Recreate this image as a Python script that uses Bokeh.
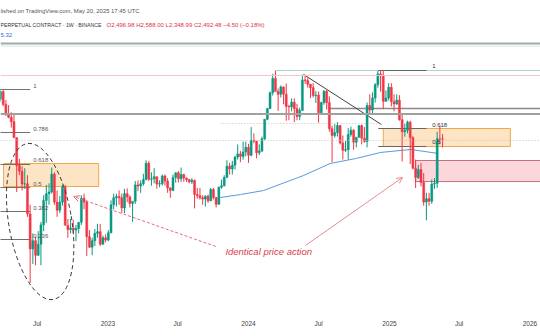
import pandas as pd
from bokeh.plotting import figure
from bokeh.models import (ColumnDataSource, Range1d, Label, Arrow, OpenHead, Span,
                          FixedTicker, CustomJSTickFormatter)
from bokeh.embed import file_html
from bokeh.resources import INLINE

# ---------------- data (weekly candles, ETHUSDT perpetual) ----------------
week_start = "2022-03-28"
opens = [
    # 2022
    3330, 3520, 3207, 3000, 2920, 2830, 2520, 2060, 1975, 1800,
    1805, 1450, 1125, 1195, 1075, 1165, 1340, 1600, 1680, 1700,
    1935, 1580, 1490, 1580, 1760, 1335, 1295, 1310, 1290, 1305,
    1365, 1625, 1580, 1230, 1140, 1195, 1260, 1275, 1165, 1220,
    # 2023
    1200, 1265, 1550, 1630, 1645, 1630, 1515, 1680, 1640, 1565,
    1590, 1790, 1775, 1805, 1860, 2095, 1865, 1870, 1900, 1800,
    1805, 1910, 1840, 1750, 1720, 1890, 1955, 1870, 1930, 1880,
    1860, 1830, 1850, 1670, 1655, 1630, 1615, 1650, 1595, 1730,
    1635, 1555, 1760, 1780, 1890, 2050, 2010, 2065, 2190, 2240,
    2200, 2270,
    # 2024
    2350, 2220, 2470, 2460, 2260, 2290, 2500, 2880, 3110, 3490,
    3870, 3520, 3450, 3640, 3450, 3160, 3150, 3260, 3110, 2940,
    3070, 3830, 3810, 3710, 3620, 3420, 3430, 3020, 3250, 3530,
    3250, 2690, 2560, 2615, 2750, 2425, 2300, 2310, 2580, 2660,
    2440, 2530, 2750, 2510, 2450, 3180, 3080, 3360, 3700, 4000,
    3960, 3280, 3360,
    # 2025
    3630, 3270, 3215, 3310, 2870, 2630, 2660, 2820, 2520, 2020,
    1890, 2000, 1820, 1580, 1620, 1590, 1800, 1810, 2500, 2496.98,
]
highs = [
    3580, 3555, 3310, 3190, 3030, 3000, 2530, 2160, 2050, 2020,
    1920, 1550, 1260, 1230, 1280, 1370, 1660, 1790, 1810, 2030,
    1960, 1720, 1650, 1790, 1790, 1400, 1400, 1390, 1340, 1340,
    1660, 1680, 1600, 1290, 1220, 1300, 1350, 1350, 1240, 1250,
    1290, 1600, 1680, 1680, 1720, 1680, 1740, 1745, 1660, 1580,
    1840, 1850, 1850, 1940, 2140, 2130, 1960, 2020, 1900, 1850,
    1930, 1930, 1880, 1760, 1930, 1960, 1980, 2030, 1940, 1890,
    1870, 1880, 1860, 1750, 1750, 1660, 1660, 1670, 1750, 1750,
    1640, 1770, 1860, 1920, 2140, 2100, 2130, 2210, 2400, 2290,
    2450, 2450,
    2410, 2720, 2600, 2460, 2400, 2540, 2880, 3130, 3520, 4000,
    4095, 3600, 3680, 3650, 3730, 3200, 3350, 3350, 3220, 3130,
    3980, 3980, 3890, 3720, 3740, 3530, 3520, 3270, 3560, 3560,
    3400, 2750, 2780, 2820, 2760, 2560, 2460, 2700, 2730, 2680,
    2520, 2760, 2770, 2720, 3250, 3450, 3500, 3740, 4090, 4110,
    4110, 3550, 3740,
    3740, 3450, 3450, 3430, 3000, 2790, 2850, 2850, 2550, 2150,
    2070, 2100, 1950, 1690, 1690, 1860, 1880, 2630, 2740, 2588.00,
]
lows = [
    3270, 3165, 2950, 2900, 2710, 2660, 1700, 1920, 1720, 1740,
    1420, 880, 1010, 1000, 1070, 1000, 1280, 1360, 1550, 1680,
    1550, 1420, 1460, 1540, 1400, 1220, 1260, 1260, 1190, 1260,
    1340, 1500, 1070, 1135, 1075, 1150, 1220, 1150, 1160, 1180,
    1190, 1260, 1500, 1530, 1550, 1460, 1460, 1580, 1520, 1370,
    1560, 1710, 1690, 1780, 1850, 1840, 1780, 1810, 1740, 1760,
    1780, 1780, 1690, 1630, 1710, 1820, 1820, 1830, 1830, 1830,
    1810, 1800, 1510, 1620, 1610, 1550, 1530, 1570, 1590, 1610,
    1520, 1550, 1740, 1770, 1880, 1930, 1930, 2000, 2150, 2110,
    2150, 2200,
    2100, 2200, 2420, 2170, 2220, 2270, 2480, 2860, 3110, 3420,
    3570, 3060, 3370, 3210, 2850, 2860, 3050, 2820, 2860, 2860,
    3070, 3720, 3620, 3360, 3370, 3240, 2810, 2990, 3200, 3090,
    2630, 2110, 2520, 2540, 2400, 2150, 2270, 2150, 2540, 2310,
    2350, 2520, 2400, 2430, 2350, 3000, 3000, 3250, 3620, 3520,
    3100, 3270, 3300,
    3160, 3050, 3200, 2850, 2120, 2540, 2600, 2080, 2000, 1750,
    1870, 1770, 1540, 1385, 1540, 1560, 1740, 1750, 2400, 2348.99,
]
closes = [
    3520, 3207, 3000, 2920, 2830, 2520, 2060, 1975, 1800, 1805,
    1450, 1125, 1195, 1075, 1165, 1340, 1600, 1680, 1700, 1935,
    1580, 1490, 1580, 1760, 1335, 1295, 1310, 1290, 1305, 1365,
    1625, 1580, 1230, 1140, 1195, 1260, 1275, 1165, 1220, 1200,
    1265, 1550, 1630, 1645, 1630, 1515, 1680, 1640, 1565, 1590,
    1790, 1775, 1805, 1860, 2095, 1865, 1870, 1900, 1800, 1805,
    1910, 1840, 1750, 1720, 1890, 1955, 1870, 1930, 1880, 1860,
    1830, 1850, 1670, 1655, 1630, 1615, 1650, 1595, 1730, 1635,
    1555, 1760, 1780, 1890, 2050, 2010, 2065, 2190, 2240, 2200,
    2270, 2350,
    2220, 2470, 2460, 2260, 2290, 2500, 2880, 3110, 3490, 3870,
    3520, 3450, 3640, 3450, 3160, 3150, 3260, 3110, 2940, 3070,
    3830, 3810, 3710, 3620, 3420, 3430, 3020, 3250, 3530, 3250,
    2690, 2560, 2615, 2750, 2425, 2300, 2310, 2580, 2660, 2440,
    2530, 2750, 2510, 2450, 3180, 3080, 3360, 3700, 4000, 3960,
    3280, 3360, 3630,
    3270, 3215, 3310, 2870, 2630, 2660, 2820, 2520, 2020, 1890,
    2000, 1820, 1580, 1620, 1590, 1800, 1810, 2500, 2496.98, 2492.48,
]

# moving average (blue line)
ma_dates = ["2023-10-20", "2023-12-11", "2024-02-09", "2024-05-23", "2024-07-31",
            "2024-10-05", "2024-12-09", "2025-02-25", "2025-05-08"]
ma_values = [1634, 1669, 1718, 1916, 2090, 2166, 2264, 2313, 2248]

# Fibonacci levels (left: 2022 decline, right: 2024/25 range)
left_fib_labels = ["1", "0.786", "0.618", "0.5", "0.382", "0.236"]
left_fib_prices = [3572, 2616, 2075, 1756, 1476, 1205]
right_fib_labels = ["1", "0.618", "0.5"]
right_fib_prices = [4100, 2693, 2364]

tick_dates = ["2022-07-01", "2023-01-01", "2023-07-01", "2024-01-01",
              "2024-07-01", "2025-01-01", "2025-07-01", "2026-01-01"]

x_start, x_end = "2022-03-28", "2026-01-28 08:00"


def ms(s):
    return pd.Timestamp(s).value / 1e6


dates = pd.date_range(week_start, periods=len(opens), freq="7D")
GREEN, RED = "#089981", "#f23645"
colors = [GREEN if c >= o else RED for o, c in zip(opens, closes)]
src = ColumnDataSource(dict(
    x=dates, h=highs, l=lows,
    top=[max(o, c) for o, c in zip(opens, closes)],
    bottom=[min(o, c) for o, c in zip(opens, closes)],
    color=colors,
))

p = figure(width=540, height=336, x_axis_type="datetime", y_axis_type="log",
           x_range=Range1d(ms(x_start), ms(x_end)), y_range=Range1d(731, 6808),
           y_axis_location=None, output_backend="svg", toolbar_location=None,
           min_border_left=0, min_border_right=0, min_border_top=0,
           min_border_bottom=28, background_fill_color="white",
           border_fill_color="white")
p.xgrid.visible = False
p.ygrid.visible = False
p.outline_line_color = None

X_END = ms(x_end)

# horizontal reference lines
p.add_layout(Span(location=4986, dimension="width", line_color="#a8a8a8", line_width=2))
p.add_layout(Span(location=4896, dimension="width", line_color="#cfe8df", line_width=1))
p.add_layout(Span(location=3955, dimension="width", line_color="#f5c4ca", line_width=1))
p.add_layout(Span(location=2991, dimension="width", line_color="#a0a0a0", line_width=2))
p.add_layout(Span(location=2469, dimension="width", line_color="#c4c4c4", line_width=1,
                  line_dash="1 2"))
p.segment(x0=[ms("2023-10-20")], x1=[ms("2024-12-08")], y0=[2792], y1=[2792],
          line_color="#c4c4c4", line_width=1, line_dash="1 2")
p.segment(x0=[ms("2024-07-26")], x1=[X_END], y0=[3113], y1=[3113],
          line_color="#8a8a8a", line_width=1.5)
p.segment(x0=[ms("2024-03-11")], x1=[X_END], y0=[4100], y1=[4100],
          line_color="#a8d8c8", line_width=1)

# zones
p.quad(left=[ms("2022-04-05")], right=[ms("2022-12-08")], bottom=[1769], top=[2090],
       fill_color="#f7a440", fill_alpha=0.3, line_color="#f0a848", line_width=1)
p.quad(left=[ms("2024-12-16")], right=[ms("2025-11-11")], bottom=[2364], top=[2693],
       fill_color="#f7a440", fill_alpha=0.3, line_color="#f0a848", line_width=1)
p.quad(left=[ms("2025-03-10")], right=[X_END], bottom=[1834], top=[2136],
       fill_color="#f48a98", fill_alpha=0.35, line_color="#c9707c", line_width=1)

# left fib
p.segment(x0=[ms("2022-03-20")] * len(left_fib_prices), x1=[ms("2022-06-13")] * len(left_fib_prices),
          y0=left_fib_prices, y1=left_fib_prices, line_color="#707070", line_width=1)
for t, v in zip(left_fib_labels, left_fib_prices):
    p.add_layout(Label(x=ms("2022-06-21"), y=v, text=t, text_font_size="6px",
                       text_color="#555555", text_baseline="bottom", y_offset=2,
                       text_font="Liberation Sans"))
# right fib
p.segment(x0=[ms("2024-12-03")] * 3, x1=[ms("2025-04-07")] * 3,
          y0=right_fib_prices, y1=right_fib_prices,
          line_color=["#4f6e60", "#666666", "#666666"], line_width=1.2)
for t, v in zip(right_fib_labels, right_fib_prices):
    p.add_layout(Label(x=ms("2025-04-22"), y=v, text=t, text_font_size="6px",
                       text_color="#333333", text_baseline="bottom", y_offset=2,
                       text_font="Liberation Sans"))

# trend line
p.segment(x0=[ms("2024-05-23")], x1=[ms("2024-12-11")], y0=[3983], y1=[2773],
          line_color="#444444", line_width=1)

# moving average
p.line(x=pd.to_datetime(ma_dates), y=ma_values, line_color="#5a9ad8", line_width=1)

# candles
p.segment(x0="x", x1="x", y0="l", y1="h", line_color="color", line_width=1, source=src)
p.vbar(x="x", width=5.2 * 86400000, top="top", bottom="bottom", fill_color="color",
       line_color="color", line_width=0.5, source=src)

# ellipse and arrows
p.ellipse(x=[ms("2022-07-09")], y=[1373], width=63, height=158, angle=0.166,
          width_units="screen", height_units="screen", fill_color=None,
          line_color="#333333", line_width=1, line_dash="4 3")
p.add_layout(Arrow(end=OpenHead(size=6, line_color="#e06c78", line_width=1),
                   x_start=ms("2023-10-08"), y_start=1146, x_end=ms("2022-10-04"), y_end=1645,
                   line_color="#e06c78", line_width=1, line_dash="3 2"))
p.add_layout(Arrow(end=OpenHead(size=6, line_color="#e88a94", line_width=1),
                   x_start=ms("2024-05-28"), y_start=1154, x_end=ms("2025-02-04"), y_end=1889,
                   line_color="#e88a94", line_width=1))
p.add_layout(Label(x=ms("2023-11-02"), y=1105, text="Identical price action",
                   text_font_size="9.5px", text_font_style="italic", text_color="#d9404e",
                   text_baseline="middle", text_font="Liberation Sans"))

# header
p.add_layout(Label(x=0, y=298, x_units="screen", y_units="screen",
                   text="lished on TradingView.com, May 20, 2025 17:45 UTC",
                   text_font_size="5.9px", text_color="#555555", text_baseline="middle",
                   text_font="Liberation Sans"))
p.add_layout(Label(x=0, y=284, x_units="screen", y_units="screen",
                   text="PERPETUAL CONTRACT · 1W · BINANCE",
                   text_font_size="5.2px", text_color="#333333", text_baseline="middle",
                   text_font="Liberation Sans"))
p.add_layout(Label(x=106, y=284, x_units="screen", y_units="screen",
                   text="O2,496.98  H2,588.00  L2,348.99  C2,492.48  −4.50 (−0.18%)",
                   text_font_size="6px", text_color="#e0303f", text_baseline="middle",
                   text_font="Liberation Sans"))
p.add_layout(Label(x=0, y=274, x_units="screen", y_units="screen", text="5.32",
                   text_font_size="6px", text_color="#2a6fdb", text_baseline="middle",
                   text_font="Liberation Sans"))

# x axis
p.xaxis.ticker = FixedTicker(ticks=[ms(d) for d in tick_dates])
p.xaxis.formatter = CustomJSTickFormatter(code="""
const d = new Date(tick);
const m = d.getUTCMonth();
return m == 0 ? String(d.getUTCFullYear()) : ["Jan","Feb","Mar","Apr","May","Jun","Jul","Aug","Sep","Oct","Nov","Dec"][m];
""")
p.xaxis.axis_line_color = None
p.xaxis.major_tick_line_color = None
p.xaxis.minor_tick_line_color = None
p.xaxis.major_label_text_font_size = "6.5px"
p.xaxis.major_label_text_color = "#444444"
p.xaxis.major_label_text_font = "Liberation Sans"
p.xaxis.major_label_standoff = 5

open("out.html", "w").write(file_html(p, INLINE))
